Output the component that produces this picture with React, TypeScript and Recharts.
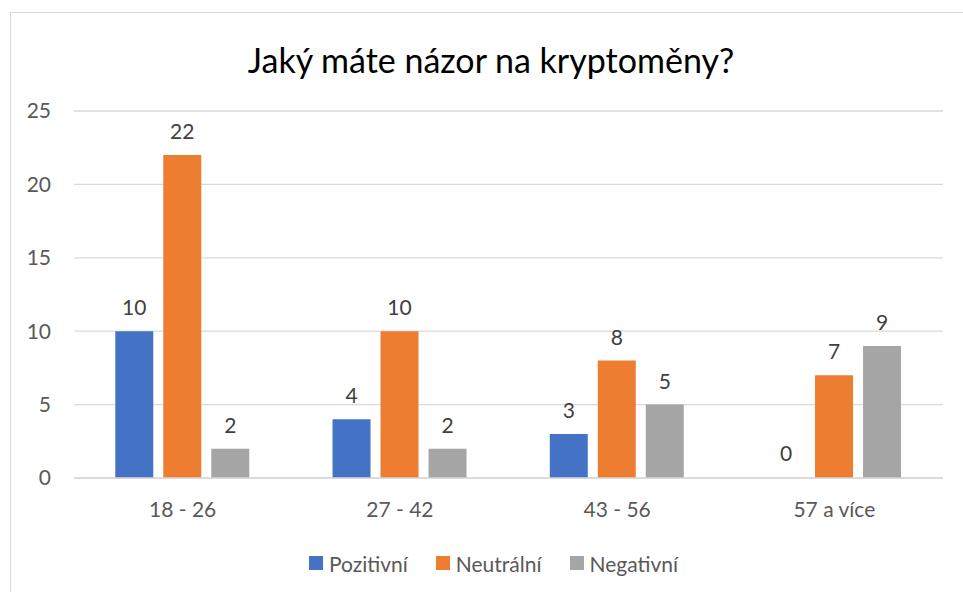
import React from 'react';
import {
  BarChart, Bar, XAxis, YAxis, CartesianGrid, LabelList, Rectangle,
} from 'recharts';

const categories = ['18 - 26', '27 - 42', '43 - 56', '57 a více'];
const pozitivni = [10, 4, 3, 0];
const neutralni = [22, 10, 8, 7];
const negativni = [2, 2, 5, 9];
const yTicks = [0, 5, 10, 15, 20, 25];

const series = [
  { key: 'pozitivni', name: 'Pozitivní', color: '#4472C4' },
  { key: 'neutralni', name: 'Neutrální', color: '#ED7D31' },
  { key: 'negativni', name: 'Negativní', color: '#A5A5A5' },
];

const data = categories.map((name, i) => ({
  name,
  pozitivni: pozitivni[i],
  neutralni: neutralni[i],
  negativni: negativni[i],
}));

const FONT = 'Lato, "Open Sans", "Noto Sans", sans-serif';

// draws the value above the bar, also when the bar is 0 high
const ValueLabel = (props: any) => {
  const { x, y, width, value } = props;
  if (value === undefined || value === null) return null;
  return (
    <text x={Number(x) + Number(width) / 2} y={Number(y) - 16} textAnchor="middle"
      fill="#404040" fontSize={21} fontFamily={FONT}>
      {value}
    </text>
  );
};

export default function App() {
  return (
    <div style={{ position: 'absolute', left: 0, top: 0, width: 963, height: 592, overflow: 'hidden', background: '#fff', fontFamily: FONT }}>
      <div style={{ position: 'absolute', left: 10, top: 12, width: 980, height: 620, border: '1px solid #d9d9d9' }} />
      <div style={{ position: 'absolute', left: 0, top: 36, width: 982, textAlign: 'center', fontSize: 34, color: '#000', lineHeight: '48px' }}>
        Jaký máte názor na kryptoměny?
      </div>
      <BarChart
        width={963}
        height={592}
        data={data}
        margin={{ top: 111, right: 20, left: 0, bottom: 84 }}
        barGap={10}
        barCategoryGap="19%"
        style={{ position: 'absolute', left: 0, top: 0 }}
      >
        <CartesianGrid vertical={false} stroke="#d9d9d9" strokeWidth={1.3} />
        <XAxis
          dataKey="name"
          height={30}
          tickLine={false}
          axisLine={{ stroke: '#d9d9d9', strokeWidth: 1.3 }}
          tickMargin={18}
          tick={{ fontSize: 21, fill: '#595959', fontFamily: FONT }}
        />
        <YAxis
          width={74}
          domain={[0, 25]}
          ticks={yTicks}
          tickLine={false}
          axisLine={false}
          tickMargin={17}
          tick={{ fontSize: 21, fill: '#595959', fontFamily: FONT }}
        />
        {series.map((s) => (
          <Bar
            key={s.key}
            dataKey={s.key}
            name={s.name}
            fill={s.color}
            isAnimationActive={false}
            minPointSize={(v: any) => (v === 0 ? 1 : 0)}
            shape={(p: any) => (p.payload && p.payload[s.key] === 0 ? <g /> : <Rectangle {...p} />)}
          >
            <LabelList dataKey={s.key} content={<ValueLabel />} />
          </Bar>
        ))}
      </BarChart>
      <div style={{ position: 'absolute', left: 309, top: 549, display: 'flex', alignItems: 'center', height: 28, fontSize: 21, color: '#595959' }}>
        {series.map((s) => (
          <div key={s.key} style={{ display: 'flex', alignItems: 'center', marginRight: 28 }}>
            <span style={{ width: 14, height: 14, background: s.color, marginRight: 6, display: 'inline-block' }} />
            <span>{s.name}</span>
          </div>
        ))}
      </div>
    </div>
  );
}
